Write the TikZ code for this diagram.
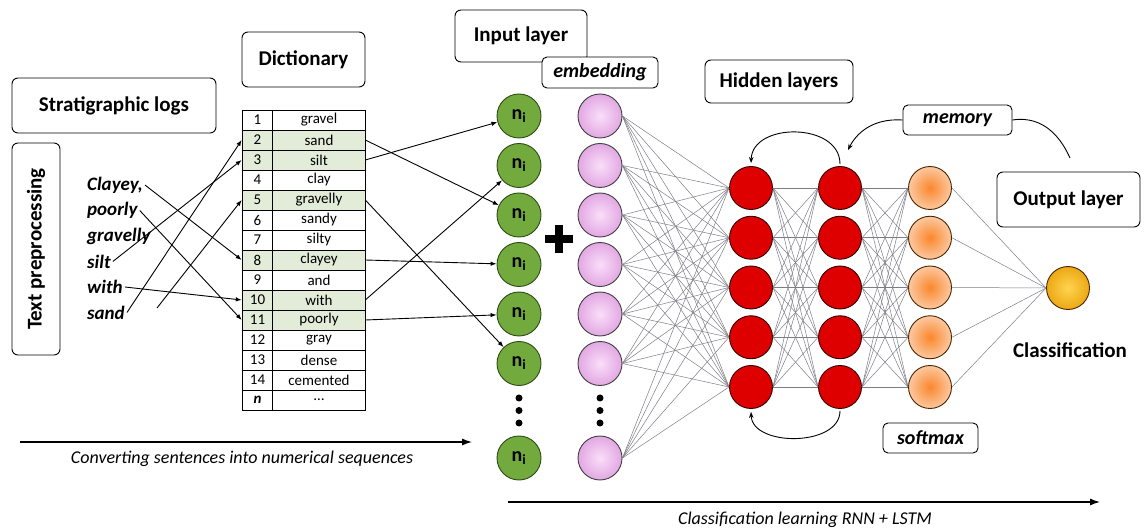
\documentclass[tikz,border=0pt]{standalone}
\usepackage{fontspec}
\setmainfont{Carlito}
\usetikzlibrary{calc,arrows.meta}

\definecolor{rowgreen}{RGB}{226,236,216}
\definecolor{nodegreen}{RGB}{114,170,62}
\definecolor{greenedge}{RGB}{45,75,20}
\definecolor{pinkin}{RGB}{250,222,250}
\definecolor{pinkout}{RGB}{226,168,226}
\definecolor{nodered}{RGB}{222,0,0}
\definecolor{orangein}{RGB}{250,135,45}
\definecolor{orangeout}{RGB}{252,200,160}
\definecolor{goldin}{RGB}{255,212,80}
\definecolor{goldout}{RGB}{236,168,20}
\definecolor{netgray}{RGB}{125,125,135}

\tikzset{
  titlebox/.style={draw,rounded corners=6pt,fill=white,line width=0.9pt,inner sep=0pt,
    font=\fontsize{21}{25}\selectfont\bfseries},
  tagbox/.style={draw,rounded corners=5pt,fill=white,line width=0.9pt,inner sep=0pt,
    font=\fontsize{20}{24}\selectfont\bfseries\itshape},
  word/.style={anchor=west,inner sep=2pt,font=\fontsize{19}{22}\selectfont\bfseries\itshape},
  cell/.style={draw,line width=0.6pt,minimum width=123pt,minimum height=20pt,inner sep=0pt},
  celltext/.style={inner sep=0pt,font=\fontsize{15}{18}\selectfont},
  note/.style={inner sep=0pt,font=\fontsize{18}{22}\selectfont\itshape},
  link/.style={line width=0.9pt,-{Latex[length=6pt,width=4.5pt]}},
  flow/.style={line width=1.2pt,-{Latex[length=10pt,width=7pt]}},
  recur/.style={line width=0.9pt,-{Stealth[length=6pt,width=4.5pt]}},
  net/.style={netgray,line width=0.5pt},
  neuron/.style={circle,draw,line width=0.9pt,minimum size=44pt,inner sep=0pt},
  greenball/.style={neuron,fill=nodegreen,draw=greenedge,font=\fontsize{20}{24}\selectfont\bfseries},
  pinkball/.style={neuron,draw=black!75,inner color=pinkin,outer color=pinkout},
  redball/.style={neuron,minimum size=43pt,fill=nodered,draw=black!80!red},
  orangeball/.style={neuron,minimum size=43pt,draw=black!70!orange,inner color=orangein,outer color=orangeout},
  goldball/.style={neuron,minimum size=43pt,draw=black!70!orange,inner color=goldin,outer color=goldout}
}

\begin{document}
\begin{tikzpicture}[x=1pt,y=-1pt]
\useasboundingbox (0,0) rectangle (1144,529);
% Title boxes
\node[titlebox,minimum width=204pt,minimum height=55pt] (strat) at (114,105.5) {Stratigraphic logs};
\node[titlebox,rotate=90,minimum width=212pt,minimum height=48pt] (prep) at (36,249) {Text preprocessing};
\node[titlebox,minimum width=123pt,minimum height=55pt] (dict) at (303.5,59.5) {Dictionary};
\node[titlebox,minimum width=132pt,minimum height=52pt] (inlayer) at (521,36) {Input layer};
\node[tagbox,minimum width=116pt,minimum height=31pt] (embed) at (600,72.5) {embedding};
\node[titlebox,minimum width=148pt,minimum height=43pt] (hidlayer) at (779,81.5) {Hidden layers};
\node[tagbox,minimum width=109pt,minimum height=30pt] (mem) at (957.5,120) {memory};
\node[titlebox,minimum width=143pt,minimum height=55pt] (outlayer) at (1068.5,199.5) {Output layer};
\node[tagbox,minimum width=95pt,minimum height=30pt] (soft) at (930.5,438) {softmax};
\node[inner sep=0pt,font=\fontsize{21}{25}\selectfont\bfseries] (classif) at (1070,350) {Classification};
% Words of the sentence
\node[word] (wclayey) at (85,185) {Clayey,};
\node[word] (wpoorly) at (85,210.5) {poorly};
\node[word] (wgravelly) at (85,236) {gravelly};
\node[word] (wsilt) at (85,261.5) {silt};
\node[word] (wwith) at (85,287) {with};
\node[word] (wsand) at (85,312.5) {sand};
\coordinate (sandend) at (157,308);
% Dictionary table
\foreach \i/\w/\c in {1/gravel/white,2/sand/rowgreen,3/silt/rowgreen,4/clay/white,
  5/gravelly/rowgreen,6/sandy/white,7/silty/white,8/clayey/rowgreen,9/and/white,
  10/with/rowgreen,11/poorly/rowgreen,12/gray/white,13/dense/white,14/cemented/white}{
  \node[cell,fill=\c] (r\i) at (303.5,{120+20*(\i-1)}) {};
  \node[celltext] (num\i) at (257.5,{120+20*(\i-1)}) {\i};
  \node[celltext] (txt\i) at (319,{120+20*(\i-1)}) {\w};
}
\node[cell] (r15) at (303.5,400) {};
\node[celltext] (num15) at (257.5,400) {\textbf{\textit{n}}};
\node[celltext] (txt15) at (319,400) {\dots};
\draw[line width=0.6pt] ($(r1.north west)+(31,0)$) -- ($(r15.south west)+(31,0)$);
% Words into the dictionary
\draw[link] (wclayey.east) -- (r8.west);
\draw[link] (wpoorly.east) -- (r11.west);
\draw[link] (wsilt.east) -- (r3.west);
\draw[link] (wwith.east) -- (r10.west);
\draw[link] (wsand.east) -- (r2.west);
\draw[link] (sandend) -- (r5.west);
% Input and embedding columns
\foreach \i/\y in {1/116,2/165.5,3/215,4/264.5,5/314,6/363.5,7/458}{
  \node[greenball] (g\i) at (519,\y) {n\textsubscript{i}};
  \node[pinkball] (p\i) at (600,\y) {};
}
\foreach \y in {398,410.5,423}{
  \fill (519,\y) circle (3.5pt);
  \fill (600,\y) circle (3.5pt);
}
\draw[line width=8pt] (545,239) -- (573,239) (559,225) -- (559,253);
% Dictionary into the input layer
\draw[link] (r3.east) -- (g1);
\draw[link] (r10.east) -- (g2);
\draw[link] (r2.east) -- (g3);
\draw[link] (r8.east) -- (g4);
\draw[link] (r11.east) -- (g5);
\draw[link] (r5.east) -- (g6);
% Hidden, softmax and output neurons
\foreach \i in {1,...,5}{
  \pgfmathsetmacro\y{188+49.75*(\i-1)}
  \node[redball] (h\i) at (751,\y) {};
  \node[redball] (k\i) at (840,\y) {};
  \node[orangeball] (o\i) at (930,\y) {};
}
\node[goldball] (out) at (1068,288) {};
% Connections of the network
\foreach \a in {1,...,7}{\foreach \b in {1,...,5}{\draw[net] (p\a.east) -- (h\b.west);}}
\foreach \a in {1,...,5}{\foreach \b in {1,...,5}{
  \draw[net] (h\a.east) -- (k\b.west);
  \draw[net] (k\a.east) -- (o\b.west);}}
\foreach \a in {1,...,5}{\draw[net] (o\a.east) -- (out.west);}
% Recurrent arcs and memory
\draw[recur,shorten <=2pt,shorten >=3pt] (k1.north) .. controls (840,122) and (752,122) .. (h1.north);
\draw[recur,shorten <=2pt,shorten >=3pt] (k5.south) .. controls (840,447) and (752,447) .. (h5.south);
\coordinate (memtip) at (848,150);
\draw[recur] (mem.west) .. controls (872,118) and (856,134) .. (memtip);
\coordinate (memend) at (1070,158);
\draw[line width=0.9pt] (mem.east) .. controls (1045,115) and (1062,140) .. (memend);
% Process arrows
\coordinate (convA) at (20,442);
\coordinate (convB) at (472,442);
\draw[flow] (convA) -- (convB);
\node[note] (convtext) at (242,459) {Converting sentences into numerical sequences};
\coordinate (learnA) at (508,502);
\coordinate (learnB) at (1100,502);
\draw[flow] (learnA) -- (learnB);
\node[note] (learntext) at (805,520) {Classification learning RNN + LSTM};
\end{tikzpicture}
\end{document}
